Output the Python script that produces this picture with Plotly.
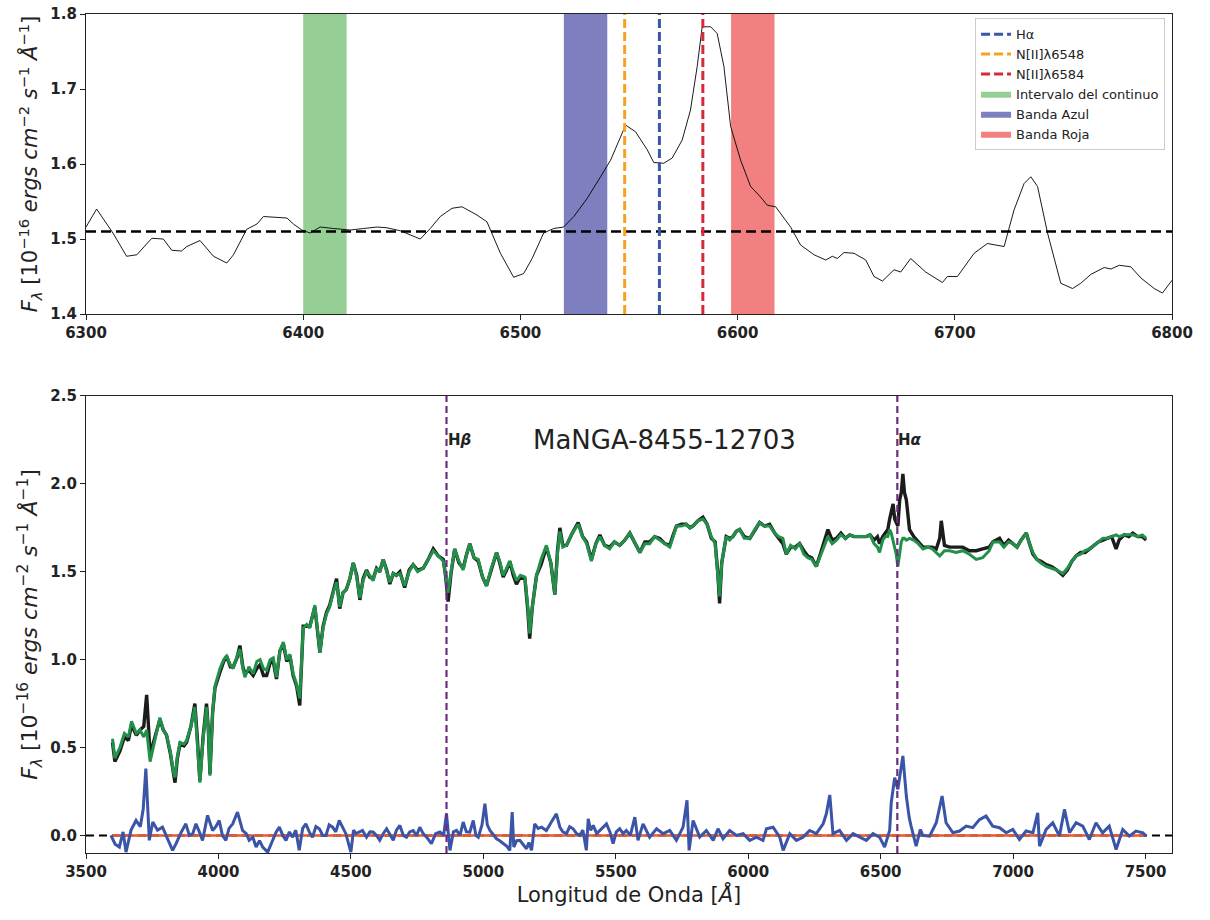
import plotly.graph_objects as go

# ---------------- Top panel data ----------------
top_wave = [6300, 6304.9, 6312.4, 6318.7, 6323.4, 6330.3, 6335.6, 6339.5, 6344, 6346.4, 6352.5, 6358.7,
            6364.8, 6367.9, 6374, 6378.7, 6381.7, 6386.3, 6392.5, 6395.5, 6399.4, 6403.2, 6407.8, 6414,
            6421.7, 6427.8, 6434, 6438.5, 6444.7, 6453.9, 6458.5, 6463.1, 6468.5, 6473.1, 6480, 6484.6,
            6490.8, 6496.9, 6501.5, 6505.4, 6510.7, 6515.3, 6519.9, 6524.6, 6530.7, 6536.9, 6541.5,
            6546.1, 6548.4, 6553, 6558.4, 6561.4, 6566, 6569.9, 6574.5, 6578.3, 6581.4, 6583.7, 6587.6,
            6590.6, 6593.7, 6596.8, 6601.4, 6606, 6610.6, 6613.7, 6617.5, 6624.4, 6629, 6635.2, 6640.6,
            6643.6, 6645.9, 6649, 6653.6, 6659, 6662.8, 6666.7, 6672, 6675.1, 6679.7, 6686.6, 6694.3,
            6696.6, 6701.2, 6708.9, 6715, 6722.7, 6727.3, 6731.9, 6735, 6738.1, 6742.7, 6748.8, 6754.2,
            6758, 6762.7, 6768.8, 6771.9, 6775.7, 6781, 6785.7, 6791.8, 6795.6, 6800]
top_flux = [1.516, 1.540, 1.508, 1.477, 1.479, 1.501, 1.500, 1.485, 1.484, 1.490, 1.498, 1.477,
            1.468, 1.479, 1.513, 1.520, 1.530, 1.529, 1.528, 1.520, 1.512, 1.508, 1.516, 1.514,
            1.512, 1.514, 1.516, 1.515, 1.511, 1.500, 1.514, 1.530, 1.541, 1.543, 1.532, 1.523,
            1.481, 1.449, 1.454, 1.474, 1.508, 1.514, 1.516, 1.530, 1.554, 1.583, 1.605,
            1.636, 1.652, 1.643, 1.619, 1.602, 1.601, 1.608, 1.632, 1.672, 1.730, 1.783, 1.783,
            1.774, 1.730, 1.650, 1.605, 1.570, 1.556, 1.545, 1.543, 1.516, 1.492, 1.479, 1.472,
            1.477, 1.474, 1.482, 1.481, 1.472, 1.450, 1.444, 1.459, 1.456, 1.474, 1.456, 1.442,
            1.450, 1.450, 1.481, 1.494, 1.490, 1.539, 1.574, 1.583, 1.570, 1.508, 1.441, 1.434,
            1.441, 1.453, 1.462, 1.460, 1.465, 1.463, 1.448, 1.434, 1.428, 1.445]
continuum_level = 1.51
line_names = ["Hα", "N[II]λ6548", "N[II]λ6584"]
line_waves = [6564, 6548, 6584]
band_names = ["Intervalo del continuo", "Banda Azul", "Banda Roja"]
band_lo = [6400, 6520, 6597]
band_hi = [6420, 6540, 6617]

# ---------------- Bottom panel data ----------------
spec_wave = [3600, 3609, 3628, 3645, 3660, 3672, 3690, 3704, 3718, 3729, 3742, 3760, 3779, 3792, 3804,
             3818, 3829, 3836, 3845, 3855, 3870, 3880, 3896, 3911, 3920, 3930, 3942, 3955, 3962, 3968,
             3978, 3987, 4006, 4020, 4031, 4045, 4056, 4070, 4081, 4092, 4100, 4115, 4131, 4145, 4157,
             4170, 4182, 4195, 4207, 4219, 4232, 4245, 4258, 4270, 4282, 4295, 4307, 4320, 4333, 4345,
             4364, 4374, 4383, 4395, 4408, 4420, 4433, 4446, 4458, 4470, 4483, 4496, 4509, 4522, 4534,
             4546, 4559, 4571, 4584, 4597, 4609, 4622, 4635, 4647, 4660, 4672, 4685, 4703, 4720, 4735,
             4752, 4773, 4792, 4811, 4830, 4849, 4858, 4867, 4878, 4892, 4908, 4924, 4937, 4949, 4965,
             4981, 4997, 5012, 5030, 5050, 5062, 5075, 5088, 5100, 5113, 5125, 5140, 5157, 5168, 5175,
             5185, 5201, 5218, 5238, 5255, 5270, 5280, 5289, 5300, 5314, 5336, 5358, 5375, 5390, 5408,
             5425, 5440, 5458, 5477, 5495, 5515, 5534, 5553, 5572, 5591, 5610, 5628, 5647, 5666, 5685,
             5704, 5717, 5729, 5748, 5766, 5780, 5791, 5810, 5829, 5845, 5861, 5875, 5885, 5892, 5900,
             5917, 5930, 5942, 5955, 5968, 5985, 6006, 6025, 6043, 6062, 6081, 6100, 6115, 6131, 6144,
             6160, 6178, 6194, 6210, 6225, 6240, 6257, 6270, 6285, 6301, 6317, 6333, 6350, 6367, 6383,
             6400, 6418, 6432, 6446, 6460, 6475, 6488, 6496, 6508, 6518, 6527, 6534, 6540, 6547, 6553,
             6559, 6565, 6572, 6578, 6584, 6590, 6597, 6609, 6625, 6642, 6660, 6678, 6695, 6710, 6723,
             6729, 6741, 6760, 6785, 6810, 6835, 6861, 6885, 6910, 6924, 6949, 6965, 6983, 6999, 7015,
             7030, 7050, 7062, 7075, 7090, 7105, 7125, 7145, 7165, 7188, 7205, 7222, 7238, 7255, 7272,
             7289, 7305, 7322, 7339, 7355, 7372, 7389, 7400, 7420, 7437, 7452, 7470, 7488, 7502]
obs_flux = [0.53, 0.42, 0.48, 0.56, 0.54, 0.63, 0.57, 0.60, 0.62, 0.80, 0.46, 0.56, 0.66, 0.60, 0.57,
            0.47, 0.35, 0.30, 0.44, 0.52, 0.51, 0.53, 0.62, 0.75, 0.56, 0.31, 0.56, 0.75, 0.60, 0.35,
            0.70, 0.84, 0.93, 0.99, 1.02, 0.96, 0.96, 1.01, 1.08, 0.96, 0.92, 0.94, 0.91, 0.95, 0.97,
            0.91, 0.91, 0.98, 0.99, 0.89, 1.05, 1.09, 0.99, 1.02, 0.91, 0.85, 0.74, 1.19, 1.19, 1.19,
            1.30, 1.16, 1.04, 1.19, 1.27, 1.31, 1.38, 1.46, 1.29, 1.38, 1.40, 1.46, 1.55, 1.48, 1.34,
            1.46, 1.51, 1.47, 1.46, 1.52, 1.50, 1.57, 1.51, 1.43, 1.49, 1.48, 1.50, 1.41, 1.51, 1.54,
            1.51, 1.52, 1.57, 1.63, 1.59, 1.57, 1.47, 1.33, 1.49, 1.63, 1.55, 1.52, 1.60, 1.66, 1.58,
            1.56, 1.47, 1.42, 1.51, 1.61, 1.55, 1.47, 1.51, 1.56, 1.48, 1.43, 1.47, 1.46, 1.28, 1.12,
            1.30, 1.48, 1.54, 1.64, 1.55, 1.37, 1.62, 1.75, 1.65, 1.65, 1.72, 1.78, 1.70, 1.67, 1.57,
            1.66, 1.71, 1.65, 1.64, 1.67, 1.65, 1.68, 1.72, 1.66, 1.61, 1.67, 1.67, 1.70, 1.69, 1.66,
            1.65, 1.71, 1.76, 1.77, 1.77, 1.75, 1.76, 1.79, 1.81, 1.77, 1.69, 1.67, 1.50, 1.32, 1.55,
            1.70, 1.69, 1.70, 1.73, 1.74, 1.70, 1.69, 1.74, 1.78, 1.76, 1.77, 1.72, 1.69, 1.66, 1.60,
            1.64, 1.64, 1.66, 1.62, 1.59, 1.58, 1.53, 1.59, 1.66, 1.74, 1.68, 1.69, 1.72, 1.69, 1.71,
            1.70, 1.70, 1.70, 1.70, 1.71, 1.68, 1.70, 1.66, 1.70, 1.72, 1.74, 1.80, 1.84, 1.886, 1.80,
            1.78, 1.76, 1.91, 1.95, 2.057, 1.95, 1.91, 1.74, 1.70, 1.67, 1.64, 1.64, 1.64, 1.63, 1.69,
            1.79, 1.65, 1.64, 1.64, 1.64, 1.62, 1.62, 1.63, 1.64, 1.67, 1.69, 1.65, 1.68, 1.66, 1.64,
            1.68, 1.72, 1.66, 1.60, 1.57, 1.56, 1.54, 1.53, 1.51, 1.48, 1.51, 1.56, 1.59, 1.61, 1.61,
            1.63, 1.65, 1.67, 1.68, 1.69, 1.70, 1.63, 1.68, 1.71, 1.70, 1.72, 1.70, 1.70, 1.68]
model_flux = [0.55, 0.44, 0.50, 0.58, 0.56, 0.65, 0.58, 0.60, 0.56, 0.60, 0.42, 0.55, 0.67, 0.60, 0.57,
              0.48, 0.37, 0.33, 0.45, 0.53, 0.52, 0.54, 0.62, 0.73, 0.55, 0.30, 0.55, 0.73, 0.60, 0.34,
              0.70, 0.85, 0.95, 1.00, 1.02, 0.97, 0.95, 1.02, 1.06, 0.95, 0.90, 0.96, 0.92, 0.99, 1.00,
              0.95, 0.94, 1.00, 1.01, 0.90, 1.05, 1.10, 1.00, 1.03, 0.92, 0.86, 0.78, 1.18, 1.20, 1.18,
              1.31, 1.17, 1.04, 1.18, 1.26, 1.30, 1.38, 1.44, 1.30, 1.38, 1.40, 1.46, 1.55, 1.47, 1.35,
              1.45, 1.50, 1.48, 1.45, 1.52, 1.50, 1.57, 1.50, 1.44, 1.49, 1.48, 1.49, 1.42, 1.50, 1.54,
              1.50, 1.52, 1.57, 1.62, 1.59, 1.56, 1.48, 1.38, 1.50, 1.63, 1.56, 1.51, 1.60, 1.66, 1.58,
              1.57, 1.47, 1.42, 1.52, 1.61, 1.56, 1.48, 1.52, 1.56, 1.50, 1.45, 1.48, 1.47, 1.30, 1.15,
              1.30, 1.48, 1.57, 1.65, 1.55, 1.37, 1.60, 1.73, 1.64, 1.65, 1.72, 1.77, 1.70, 1.66, 1.56,
              1.66, 1.70, 1.65, 1.63, 1.67, 1.65, 1.68, 1.72, 1.66, 1.61, 1.66, 1.66, 1.70, 1.68, 1.66,
              1.64, 1.70, 1.76, 1.76, 1.77, 1.75, 1.76, 1.79, 1.80, 1.77, 1.70, 1.66, 1.50, 1.36, 1.55,
              1.70, 1.68, 1.70, 1.73, 1.74, 1.69, 1.69, 1.74, 1.78, 1.76, 1.76, 1.72, 1.70, 1.69, 1.60,
              1.65, 1.63, 1.66, 1.60, 1.58, 1.57, 1.53, 1.58, 1.64, 1.70, 1.66, 1.68, 1.71, 1.69, 1.71,
              1.70, 1.70, 1.70, 1.70, 1.71, 1.66, 1.64, 1.61, 1.68, 1.70, 1.70, 1.74, 1.72, 1.68, 1.64,
              1.60, 1.53, 1.62, 1.67, 1.69, 1.69, 1.68, 1.69, 1.68, 1.66, 1.63, 1.64, 1.63, 1.61, 1.59,
              1.60, 1.62, 1.62, 1.61, 1.62, 1.60, 1.57, 1.58, 1.62, 1.67, 1.67, 1.64, 1.67, 1.66, 1.64,
              1.68, 1.72, 1.66, 1.61, 1.57, 1.55, 1.53, 1.52, 1.51, 1.49, 1.52, 1.56, 1.59, 1.60, 1.62,
              1.63, 1.65, 1.67, 1.69, 1.69, 1.70, 1.71, 1.70, 1.71, 1.71, 1.71, 1.70, 1.71, 1.69]

resid_wave = [3594, 3610, 3626, 3640, 3651, 3670, 3689, 3705, 3716, 3726, 3739, 3752, 3770, 3789, 3808,
              3827, 3840, 3860, 3877, 3890, 3903, 3915, 3928, 3940, 3959, 3978, 3990, 4003, 4015, 4028,
              4040, 4054, 4072, 4091, 4105, 4116, 4130, 4142, 4155, 4167, 4186, 4204, 4218, 4230, 4243,
              4255, 4268, 4280, 4292, 4305, 4318, 4330, 4343, 4355, 4368, 4381, 4394, 4406, 4418, 4431,
              4443, 4456, 4470, 4481, 4500, 4510, 4519, 4544, 4559, 4572, 4584, 4597, 4609, 4622, 4635,
              4648, 4660, 4672, 4685, 4698, 4710, 4722, 4735, 4748, 4760, 4773, 4786, 4804, 4820, 4836,
              4850, 4861, 4868, 4874, 4887, 4899, 4912, 4924, 4936, 4949, 4962, 4972, 4981, 4995, 5006,
              5015, 5025, 5038, 5050, 5062, 5075, 5088, 5100, 5109, 5115, 5126, 5138, 5150, 5163, 5172,
              5182, 5194, 5207, 5220, 5238, 5257, 5276, 5289, 5300, 5314, 5326, 5339, 5352, 5364, 5376,
              5389, 5396, 5405, 5415, 5428, 5440, 5452, 5465, 5478, 5490, 5502, 5515, 5528, 5540, 5555,
              5572, 5584, 5603, 5628, 5654, 5679, 5704, 5729, 5754, 5769, 5777, 5792, 5817, 5842, 5868,
              5886, 5905, 5930, 5956, 5981, 6006, 6031, 6056, 6069, 6094, 6119, 6132, 6157, 6182, 6207,
              6232, 6257, 6283, 6295, 6308, 6320, 6345, 6371, 6396, 6421, 6446, 6471, 6496, 6515, 6534,
              6540, 6553, 6565, 6575, 6584, 6597, 6608, 6615, 6634, 6650, 6659, 6685, 6710, 6732, 6747,
              6773, 6798, 6823, 6848, 6873, 6898, 6923, 6949, 6974, 6999, 7024, 7049, 7075, 7093, 7100,
              7125, 7150, 7175, 7194, 7213, 7238, 7263, 7288, 7313, 7338, 7363, 7389, 7414, 7439, 7464,
              7490, 7502]
resid_flux = [0.0, -0.05, -0.066, 0.02, -0.095, 0.03, 0.085, 0.05, 0.15, 0.38, -0.028, 0.076, 0.03, 0.047, -0.02,
              -0.085, -0.047, 0.02, 0.066, 0.0, 0.01, 0.066, 0.02, -0.028, 0.114, 0.028, 0.05, 0.085, 0.0, -0.028,
              0.04, 0.066, 0.133, 0.028, 0.01, -0.028, -0.01, -0.066, -0.03, -0.066, -0.095, -0.028, 0.02, 0.047, 0.0,
              -0.028, 0.02, -0.01, 0.03, -0.085, 0.04, 0.066, 0.02, -0.01, 0.05, 0.038, 0.0, 0.0, 0.06, 0.047,
              0.02, 0.085, 0.04, 0.01, -0.095, 0.03, 0.01, 0.028, -0.01, 0.02, 0.019, 0.0, -0.028, 0.01, 0.038,
              0.0, -0.028, 0.03, 0.057, 0.0, -0.01, 0.02, 0.028, 0.0, 0.047, 0.01, -0.01, -0.047, 0.01, 0.019,
              0.0, 0.123, 0.02, -0.085, 0.02, 0.028, 0.0, 0.076, 0.02, 0.019, 0.085, 0.0, -0.01, 0.06, 0.18,
              0.06, 0.028, 0.0, -0.019, -0.03, -0.047, -0.06, -0.085, 0.133, -0.066, -0.03, -0.028, -0.05, -0.076, -0.04,
              -0.085, 0.066, 0.04, 0.047, 0.028, 0.076, 0.123, 0.047, 0.02, 0.01, 0.05, 0.038, 0.01, 0.0, 0.03,
              -0.085, 0.095, 0.03, 0.057, 0.01, 0.028, 0.05, 0.066, 0.02, -0.047, 0.02, 0.038, 0.01, 0.028, 0.0,
              0.104, -0.028, 0.066, -0.01, 0.038, 0.01, 0.028, -0.028, 0.047, 0.2, -0.085, 0.085, -0.01, 0.028, -0.028,
              0.038, -0.019, 0.028, 0.0, 0.01, -0.028, -0.01, -0.028, 0.038, 0.047, -0.01, -0.085, 0.01, -0.028, -0.01,
              0.028, 0.01, 0.066, 0.123, 0.23, 0.01, 0.028, -0.028, 0.01, -0.01, -0.028, 0.01, -0.01, -0.066, 0.028,
              0.186, 0.329, 0.262, 0.35, 0.452, 0.224, 0.1, 0.053, -0.061, 0.034, 0.0, -0.004, 0.072, 0.224, 0.072,
              0.015, 0.025, 0.053, 0.044, 0.09, 0.11, 0.053, 0.044, 0.015, 0.034, -0.023, 0.025, 0.015, 0.129, -0.061,
              0.034, 0.072, -0.004, 0.148, 0.015, 0.072, 0.053, -0.023, 0.072, 0.015, 0.053, -0.08, 0.034, -0.004, 0.025,
              0.015, -0.004]
zero_wave = [3600, 7500]
zero_flux = [0.0, 0.0]
mark_names = ["H<i>β</i>", "H<i>α</i>"]
mark_waves = [4861, 6563]
galaxy_name = "MaNGA-8455-12703"

top_xrange = [6300, 6800]
top_yrange = [1.4, 1.8]
bot_xrange = [3500, 7600]
bot_yrange = [-0.1, 2.5]

FONT = "DejaVu Sans"
ytitle = ("<i>F</i><sub><i>λ</i></sub> [10<sup>−16</sup> <i>ergs cm</i><sup>−2</sup> "
          "<i>s</i><sup>−1</sup> <i>Å</i><sup>−1</sup>]")

fig = go.Figure()

# bands (below everything)
band_colors = ["rgb(149,207,149)", "rgb(125,127,190)", "rgb(242,128,128)"]
for i, (nm, lo, hi) in enumerate(zip(band_names, band_lo, band_hi)):
    fig.add_trace(go.Scatter(
        x=[lo, hi, hi, lo, lo], y=[top_yrange[0], top_yrange[0], top_yrange[1], top_yrange[1], top_yrange[0]],
        mode="lines", fill="toself", fillcolor=band_colors[i], line=dict(width=0, color=band_colors[i]),
        name=nm, legendrank=10 + i, xaxis="x", yaxis="y", hoverinfo="skip"))

# spectrum
fig.add_trace(go.Scatter(x=top_wave, y=top_flux, mode="lines", line=dict(color="black", width=0.9),
                         showlegend=False, xaxis="x", yaxis="y"))
# continuum level
fig.add_trace(go.Scatter(x=top_xrange, y=[continuum_level, continuum_level], mode="lines",
                         line=dict(color="black", width=2.5, dash="10px,5px"),
                         showlegend=False, xaxis="x", yaxis="y"))
# lines
line_colors = ["#3b56a8", "#f5a31f", "#d6293a"]
for i, (nm, w) in enumerate(zip(line_names, line_waves)):
    fig.add_trace(go.Scatter(x=[w, w], y=top_yrange, mode="lines",
                             line=dict(color=line_colors[i], width=3, dash="9px,4px"),
                             name=nm, legendrank=i + 1, xaxis="x", yaxis="y"))

# bottom panel
fig.add_trace(go.Scatter(x=bot_xrange, y=[0, 0], mode="lines",
                         line=dict(color="black", width=2, dash="8px,5px"),
                         showlegend=False, xaxis="x2", yaxis="y2"))
fig.add_trace(go.Scatter(x=spec_wave, y=obs_flux, mode="lines", line=dict(color="#1c1c1c", width=3.4),
                         showlegend=False, xaxis="x2", yaxis="y2"))
fig.add_trace(go.Scatter(x=spec_wave, y=model_flux, mode="lines", line=dict(color="#23904a", width=3),
                         showlegend=False, xaxis="x2", yaxis="y2"))
fig.add_trace(go.Scatter(x=zero_wave, y=zero_flux, mode="lines", line=dict(color="#e8582c", width=2.5),
                         showlegend=False, xaxis="x2", yaxis="y2"))
fig.add_trace(go.Scatter(x=resid_wave, y=resid_flux, mode="lines", line=dict(color="#3a55a8", width=3),
                         showlegend=False, xaxis="x2", yaxis="y2"))
for w in mark_waves:
    fig.add_trace(go.Scatter(x=[w, w], y=bot_yrange, mode="lines",
                             line=dict(color="#6d2d7e", width=2.2, dash="7px,4px"),
                             showlegend=False, xaxis="x2", yaxis="y2"))

annotations = []
for nm, w in zip(mark_names, mark_waves):
    annotations.append(dict(x=w, y=2.25, xref="x2", yref="y2", text=nm, showarrow=False,
                            xanchor="left", yanchor="middle", xshift=-1,
                            font=dict(family=FONT, size=15, color="#222", weight="bold")))
annotations.append(dict(x=5685, y=2.25, xref="x2", yref="y2", text=galaxy_name, showarrow=False,
                        xanchor="center", yanchor="middle",
                        font=dict(family=FONT, size=26, color="#222")))

tickfont = dict(family=FONT, size=15, color="#222", weight="bold")
axis_common = dict(showgrid=False, zeroline=False, showline=True, mirror=True, linecolor="#222",
                   linewidth=1.2, ticks="outside", ticklen=5, tickwidth=1, tickcolor="#222",
                   tickfont=tickfont, automargin=False)

fig.update_layout(
    width=1210, height=920,
    margin=dict(l=86, r=38, t=14, b=67),
    paper_bgcolor="white", plot_bgcolor="white",
    xaxis=dict(domain=[0, 1], anchor="y", range=top_xrange, tickmode="linear", tick0=6300, dtick=100,
               **axis_common),
    yaxis=dict(domain=[0.6424, 1.0], anchor="x", range=top_yrange, tickmode="linear", tick0=1.4, dtick=0.1,
               tickformat=".1f",
               title=dict(text=ytitle, font=dict(family=FONT, size=21, color="#222"), standoff=6),
               **axis_common),
    xaxis2=dict(domain=[0, 1], anchor="y2", range=bot_xrange, tickmode="linear", tick0=3500, dtick=500,
                title=dict(text="Longitud de Onda [<i>Å</i>]", font=dict(family=FONT, size=21, color="#222"),
                           standoff=6),
                **axis_common),
    yaxis2=dict(domain=[0, 0.5447], anchor="x2", range=bot_yrange, tickmode="linear", tick0=0, dtick=0.5,
                tickformat=".1f",
                title=dict(text=ytitle, font=dict(family=FONT, size=22, color="#222"), standoff=6),
                **axis_common),
    legend=dict(x=0.9936, y=0.995, xanchor="right", yanchor="top", bgcolor="rgba(255,255,255,0.85)",
                bordercolor="#cccccc", borderwidth=1, font=dict(family=FONT, size=13, color="#222"),
                tracegroupgap=0, itemwidth=30),
    annotations=annotations,
    showlegend=True,
)

fig.write_html("out.html")
